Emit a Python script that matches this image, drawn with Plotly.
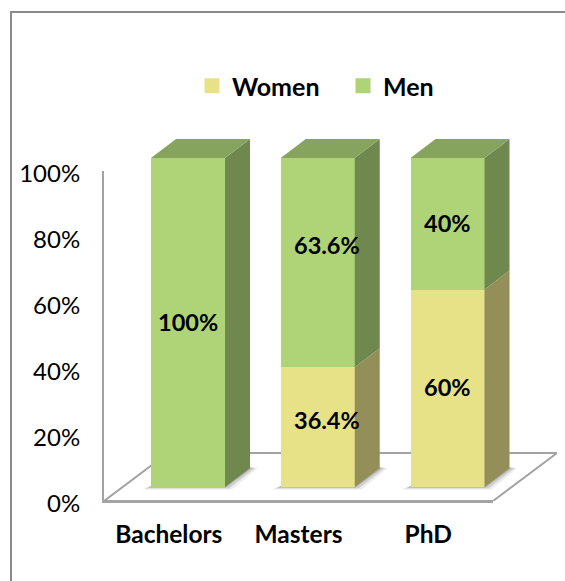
import plotly.graph_objects as go

categories = ["Bachelors", "Masters", "PhD"]
women = [0, 36.4, 60]
men = [100, 63.6, 40]
y_ticks = [0, 20, 40, 60, 80, 100]
y_tick_labels = ["0%", "20%", "40%", "60%", "80%", "100%"]

W, H = 565, 581
FONT = "Lato"
GREEN, GREEN_SIDE = "#aed477", "#6e884d"
GREEN_TOP = "#87a45f"
YELLOW, YELLOW_SIDE = "#e7e187", "#948f58"
AXIS = "#a3a3a3"
PX_PER_CAT, PX_PER_UNIT = 129.75, 3.29
X0, Y0 = 188.0, 487.0        # pixel of first bar centre / bar baseline
BAR_W = 74 / PX_PER_CAT
DX, DY = 25 / PX_PER_CAT, 19 / PX_PER_UNIT   # 3-D depth of a bar
L, R, T, B = 104, 557, 139, 501              # drawing area for the 3-D projection


def bx(px):
    return (px - X0) / PX_PER_CAT


def by(py):
    return (Y0 - py) / PX_PER_UNIT


def path(points):
    return "M" + "L".join(f"{x},{y}" for x, y in points) + "Z"


fig = go.Figure()
fig.add_trace(go.Scatter(x=categories, y=[None] * 3, xaxis="x", yaxis="y", mode="lines",
                         showlegend=False, hoverinfo="skip"))

positions = list(range(len(categories)))
for name, vals, color in (("Women", women, YELLOW), ("Men", men, GREEN)):
    fig.add_trace(go.Bar(name=name, x=positions, y=vals, xaxis="x2", yaxis="y2", width=BAR_W,
                         marker=dict(color=color, line=dict(width=0)), showlegend=False))
    # legend entry with the larger square swatch of the picture
    fig.add_trace(go.Scatter(name=name, x=[None], y=[None], xaxis="x2", yaxis="y2", mode="markers",
                             marker=dict(symbol="square", size=15, color=color), hoverinfo="skip"))


def polygon(xs, ys, color):
    fig.add_trace(go.Scatter(x=xs, y=ys, xaxis="x2", yaxis="y2", mode="lines", fill="toself",
                             fillcolor=color, line=dict(width=0), showlegend=False,
                             hoverinfo="skip"))


shapes = []
# floor of the 3-D box
shapes.append(dict(type="path", layer="below", xref="x2", yref="y2",
                   path=path([(bx(104), by(501)), (bx(493), by(501)), (bx(557), by(453)), (bx(168), by(453))]),
                   line=dict(color=AXIS, width=2)))

for i, pos in enumerate(positions):
    right = pos + BAR_W / 2
    left = pos - BAR_W / 2
    # soft shadow on the floor, hugging the foot of the bar
    for grow, alpha in ((0, 0.35), (3, 0.22), (6, 0.12)):
        shapes.append(dict(type="path", layer="below", xref="x2", yref="y2", line=dict(width=0),
                           fillcolor=f"rgba(110,110,110,{alpha})",
                           path=path([(left - (3 + grow) / PX_PER_CAT, -(0.5 + grow / 3) / PX_PER_UNIT),
                                      (right + (1 + grow) / PX_PER_CAT, -(0.5 + grow / 3) / PX_PER_UNIT),
                                      (right + DX + (2 + grow) / PX_PER_CAT, DY),
                                      (right + DX - 2 / PX_PER_CAT, DY + 1 / PX_PER_UNIT),
                                      (right, 1 / PX_PER_UNIT), (left, 1 / PX_PER_UNIT)])))
    # side faces
    w, m = women[i], men[i]
    if w > 0:
        polygon([right, right + DX, right + DX, right, right], [0, DY, w + DY, w, 0], YELLOW_SIDE)
    polygon([right, right + DX, right + DX, right, right], [w, w + DY, w + m + DY, w + m, w], GREEN_SIDE)
    # top face
    polygon([left, right, right + DX, left + DX, left],
            [w + m, w + m, w + m + DY, w + m + DY, w + m], GREEN_TOP)

# value labels, with the small displacements they have in the picture
label_shift = {(1, "w"): (9, 7), (1, "m"): (9, 18)}
annotations = []
for i, pos in enumerate(positions):
    w, m = women[i], men[i]
    for key, v, centre in (("w", w, w / 2), ("m", m, w + m / 2)):
        if v > 0:
            sx, sy = label_shift.get((i, key), (0, 1))
            annotations.append(dict(x=pos, y=centre, xref="x2", yref="y2", text=f"<b>{v:g}%</b>",
                                    showarrow=False, xshift=sx, yshift=sy,
                                    font=dict(family=FONT, size=23.5, color="black")))

# outer chart frame
shapes.append(dict(type="path", xref="paper", yref="paper", line=dict(color="#8a8a8a", width=2),
                   path=f"M{11 / W},0L{11 / W},{1 - 12 / H}L1,{1 - 12 / H}"))

fig.update_layout(
    width=W, height=H, margin=dict(l=0, r=0, t=0, b=0, pad=0, autoexpand=False),
    paper_bgcolor="white", plot_bgcolor="rgba(0,0,0,0)",
    barmode="stack", hovermode=False, shapes=shapes, annotations=annotations,
    font=dict(family=FONT, color="black"),
    legend=dict(orientation="h", x=192 / W, y=1 - 86 / H, xanchor="left", yanchor="middle",
                font=dict(family=FONT, size=25, weight="bold"), bgcolor="rgba(0,0,0,0)",
                traceorder="normal", itemclick=False, itemdoubleclick=False,
                entrywidth=106, entrywidthmode="pixels"),
    xaxis=dict(domain=[104 / W, 493 / W], anchor="y", type="category", range=[-0.5, 2.5],
               tickmode="array", tickvals=categories, ticktext=[f"<b>{c}</b>" for c in categories],
               showgrid=False, zeroline=False, showline=True, linecolor=AXIS, linewidth=2,
               ticks="", ticklabelstandoff=11, tickfont=dict(family=FONT, size=24.5, color="black")),
    yaxis=dict(domain=[1 - 501 / H, 1 - 171 / H], anchor="x", range=[0, 100],
               tickmode="array", tickvals=y_ticks, ticktext=y_tick_labels,
               showgrid=False, zeroline=False, showline=True, linecolor=AXIS, linewidth=2,
               ticks="", ticklabelstandoff=17, ticklabelshift=3,
               tickfont=dict(family=FONT, size=24, color="black")),
    xaxis2=dict(domain=[L / W, R / W], anchor="y2",
                range=[bx(L), bx(R)], visible=False),
    yaxis2=dict(domain=[1 - B / H, 1 - T / H], anchor="x2",
                range=[by(B), by(T)], visible=False),
)

fig.write_html("out.html", config=dict(displayModeBar=False),
               post_script="document.body.style.margin='0';")
